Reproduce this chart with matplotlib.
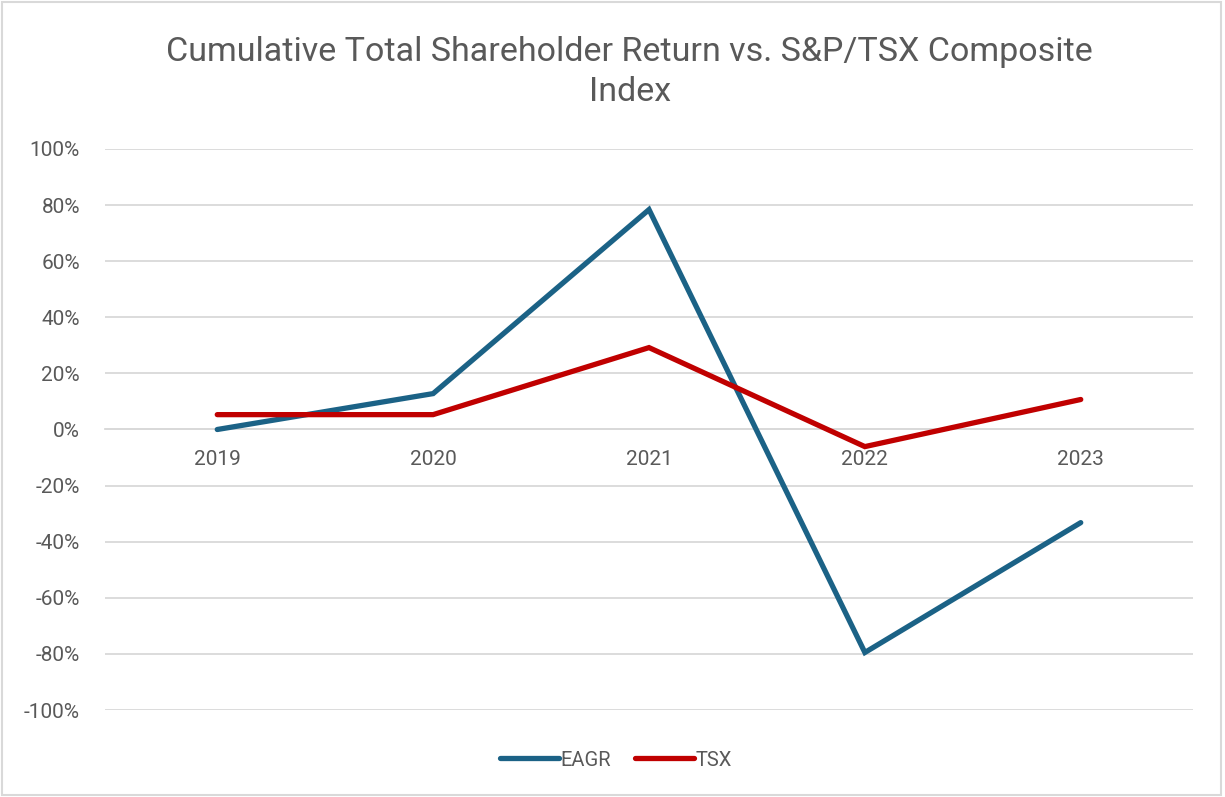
import matplotlib.pyplot as plt
from matplotlib.patches import Rectangle
from matplotlib.ticker import PercentFormatter

years = ["2019", "2020", "2021", "2022", "2023"]
eagr = [0.0, 12.8, 78.4, -79.5, -33.2]
tsx = [5.3, 5.3, 29.2, -6.1, 10.7]

text_color = "#595959"
grid_color = "#d9d9d9"

plt.rcParams["font.family"] = ["Roboto", "DejaVu Sans"]
plt.rcParams["axes.unicode_minus"] = False

fig = plt.figure(figsize=(12.25, 7.97), dpi=100)
ax = fig.add_axes([105 / 1225, 1 - 710 / 797, (1193 - 105) / 1225, (710 - 149) / 797])

x = list(range(len(years)))
ax.plot(x, eagr, color="#1b6286", linewidth=3.8, solid_capstyle="round",
        solid_joinstyle="miter", label="EAGR", zorder=3)
ax.plot(x, tsx, color="#c00000", linewidth=3.8, solid_capstyle="round",
        solid_joinstyle="miter", label="TSX", zorder=3)

ax.set_ylim(-100, 100)
ax.set_xlim(-0.52, 4.52)
ax.set_yticks(range(-100, 101, 20))
ax.yaxis.set_major_formatter(PercentFormatter(decimals=0))
ax.set_xticks(x)
ax.set_xticklabels(years)
ax.grid(axis="y", color=grid_color, linewidth=1.3)
ax.set_axisbelow(True)

for side in ["top", "left", "right"]:
    ax.spines[side].set_visible(False)
ax.spines["bottom"].set_position(("data", 0))
ax.spines["bottom"].set_color(grid_color)
ax.spines["bottom"].set_linewidth(1.3)

ax.tick_params(axis="both", length=0, labelsize=15, labelcolor=text_color)
ax.tick_params(axis="x", pad=15)
ax.tick_params(axis="y", pad=18)

fig.text(0.514, 1 - 72 / 797, "Cumulative Total Shareholder Return vs. S&P/TSX Composite\nIndex",
         ha="center", va="center", fontsize=24.5, color=text_color, linespacing=1.3)

leg = fig.legend(loc="center", bbox_to_anchor=(0.503, 1 - 760 / 797), ncol=2,
                 frameon=False, fontsize=14.5, handlelength=2.9, columnspacing=1.2,
                 handletextpad=0.1)
for t in leg.get_texts():
    t.set_color(text_color)

fig.patches.append(Rectangle((0.002, 0.003), 0.995, 0.994, transform=fig.transFigure,
                             fill=False, edgecolor=grid_color, linewidth=1.5))

fig.savefig("out.png", dpi=100)
